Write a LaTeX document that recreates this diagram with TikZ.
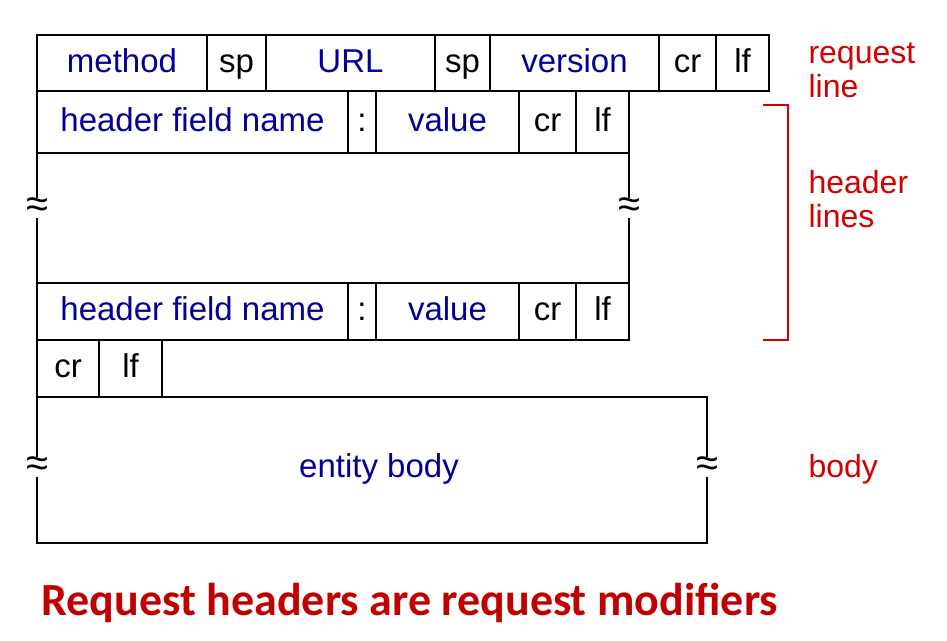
\documentclass[tikz,border=0pt]{standalone}
\usepackage{fontspec}
\setmainfont{Liberation Sans}
\newfontfamily\captionfont{Carlito}
\usetikzlibrary{positioning}
\definecolor{fieldblue}{RGB}{0,0,150}
\definecolor{labelred}{RGB}{210,0,0}
\definecolor{captionred}{RGB}{192,0,0}

\tikzset{
  cell/.style={draw, line width=1.4pt, inner sep=0pt, outer sep=0pt,
    anchor=north west, text height=22pt, text depth=4pt,
    font=\fontsize{33}{35}\selectfont},
  field/.style={cell, text=fieldblue},
  tag/.style={cell, text=black},
  cut/.style={fill=white, inner sep=0pt, font=\fontsize{40}{40}\selectfont},
  sidelabel/.style={anchor=base west, align=left, text=labelred,
    font=\fontsize{32}{34}\selectfont}
}

\begin{document}
\begin{tikzpicture}[x=1pt,y=-1pt]
  \useasboundingbox (0,0) rectangle (947,640);

  % request line
  \node[field, minimum width=170pt, minimum height=56pt] (method) at (37,35) {method};
  \node[tag,   minimum width=59pt,  minimum height=56pt] (spa) at (method.north east) {sp};
  \node[field, minimum width=169pt, minimum height=56pt] (url) at (spa.north east) {URL};
  \node[tag,   minimum width=55pt,  minimum height=56pt] (spb) at (url.north east) {sp};
  \node[field, minimum width=169pt, minimum height=56pt] (version) at (spb.north east) {version};
  \node[tag,   minimum width=57pt,  minimum height=56pt] (reqcr) at (version.north east) {cr};
  \node[tag,   minimum width=53pt,  minimum height=56pt] (reqlf) at (reqcr.north east) {lf};

  % first header line
  \node[field, minimum width=311pt, minimum height=62pt] (nameA) at (method.south west) {header field name};
  \node[tag,   minimum width=28pt,  minimum height=62pt] (colonA) at (nameA.north east) {:};
  \node[field, minimum width=143pt, minimum height=62pt] (valueA) at (colonA.north east) {value};
  \node[tag,   minimum width=57pt,  minimum height=62pt] (crA) at (valueA.north east) {cr};
  \node[tag,   minimum width=53pt,  minimum height=62pt] (lfA) at (crA.north east) {lf};

  % omitted header lines
  \node[cell, minimum width=592pt, minimum height=130pt] (gap) at (nameA.south west) {};
  \node[cut] (gapl) at (gap.west |- 0,208) {≈};
  \node[cut] (gapr) at (gap.east |- 0,208) {≈};

  % last header line
  \node[field, minimum width=311pt, minimum height=57pt] (nameB) at (gap.south west) {header field name};
  \node[tag,   minimum width=28pt,  minimum height=57pt] (colonB) at (nameB.north east) {:};
  \node[field, minimum width=143pt, minimum height=57pt] (valueB) at (colonB.north east) {value};
  \node[tag,   minimum width=57pt,  minimum height=57pt] (crB) at (valueB.north east) {cr};
  \node[tag,   minimum width=53pt,  minimum height=57pt] (lfB) at (crB.north east) {lf};

  % blank line
  \node[tag, minimum width=62pt, minimum height=57pt] (crC) at (nameB.south west) {cr};
  \node[tag, minimum width=63pt, minimum height=57pt] (lfC) at (crC.north east) {lf};

  % body
  \node[field, minimum width=670pt, minimum height=146pt] (body) at (crC.south west) {};
  \node[text=fieldblue, anchor=base, font=\fontsize{33}{35}\selectfont] (bodytext) at (379,477) {entity body};
  \node[cut] (bodyl) at (body.west |- 0,467) {≈};
  \node[cut] (bodyr) at (body.east |- 0,467) {≈};

  % labels on the right
  \node[sidelabel] (reqlabel) at (805,97) {request\\line};
  \node[sidelabel] (hdrlabel) at (805,227) {header\\lines};
  \node[sidelabel] (bodylabel) at (805,477) {body};
  \coordinate (brtop) at (763,105);
  \coordinate (brbot) at (763,340);
  \draw[labelred, line width=2pt] (brtop) -- ++(25,0) |- (brbot);

  \node[anchor=base west, text=captionred, font=\captionfont\bfseries\fontsize{46}{46}\selectfont]
    (caption) at (38,615) {Request headers are request modifiers};
\end{tikzpicture}
\end{document}
